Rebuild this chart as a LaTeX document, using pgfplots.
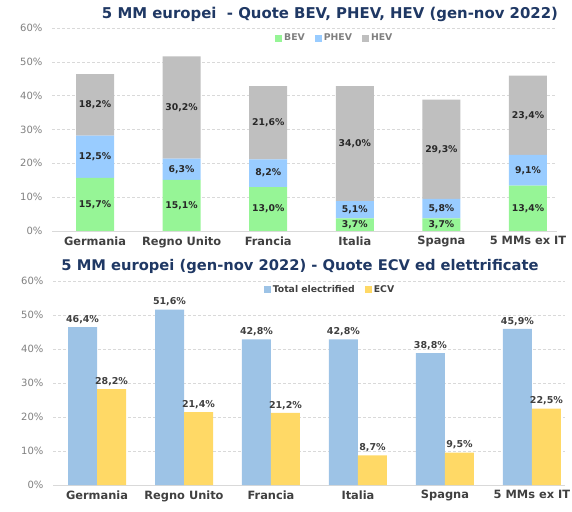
\documentclass[border=0pt]{standalone}
\usepackage{pgfplots}
\pgfplotsset{compat=1.18}
\usepackage{fontspec}
\setmainfont{DejaVu Sans}
\definecolor{bev}{RGB}{150,245,150}
\definecolor{phev}{RGB}{153,204,255}
\definecolor{hev}{RGB}{191,191,191}
\definecolor{tot}{RGB}{157,195,230}
\definecolor{ecv}{RGB}{255,217,102}
\definecolor{titleblue}{RGB}{31,56,100}
\definecolor{tickgray}{RGB}{127,127,127}
\definecolor{gridgray}{RGB}{217,217,217}
\definecolor{lblgray}{RGB}{64,64,64}
\definecolor{lbldark}{RGB}{40,40,40}

\pgfplotsset{
  base/.style={
    scale only axis,
    ymin=0, ymax=60, ytick={0,10,...,60},
    /pgf/number format/assume math mode=true,
    yticklabel={\pgfmathprintnumber{\tick}\%},
    yticklabel style={font=\fontsize{10}{12}\selectfont, text=tickgray, xshift=-6pt},
    xtick={0,...,5},
    xticklabels={Germania, Regno Unito, Francia, Italia, Spagna, 5 MMs ex IT},
    xticklabel style={font=\fontsize{11.4}{13}\selectfont\bfseries, text=lblgray, yshift=-2pt},
    axis x line*=bottom, axis y line*=left,
    y axis line style={draw=none},
    x axis line style={gridgray, line width=0.8pt},
    major tick length=0pt,
    ymajorgrids, grid style={gridgray, densely dashed},
    legend style={draw=none, fill=none, legend columns=-1,
      /tikz/every even column/.append style={column sep=8pt}},
  },
  sqlegend/.style={
    legend image code/.code={\fill[##1,draw=none] (0pt,-3.5pt) rectangle (7pt,3.5pt);},
  },
  lblfmt/.style={
    nodes near coords={\pgfmathprintnumber[fixed,fixed zerofill,precision=1,use comma]{\pgfplotspointmeta}\%},
  }
}

\begin{document}
\begin{tikzpicture}
\path[use as bounding box] (0,0) rectangle (572pt,511pt);

% ---------- top chart ----------
\begin{axis}[base, at={(52pt,280pt)}, anchor=south west, width=505pt, height=203pt,
  xmin=-0.497, xmax=5.335,
  ybar stacked, bar width=38pt, sqlegend,
  legend style={at={(0.560,0.95)}, anchor=center,
    font=\fontsize{9.3}{11}\selectfont\bfseries, text=tickgray},
]
\addplot[fill=bev, draw=none, sqlegend] coordinates {(0,15.7) (1,15.1) (2,13.0) (3,3.7) (4,3.7) (5,13.4)};
\addplot[fill=phev, draw=none, sqlegend] coordinates {(0,12.5) (1,6.3) (2,8.2) (3,5.1) (4,5.8) (5,9.1)};
\addplot[fill=hev, draw=none, sqlegend] coordinates {(0,18.2) (1,30.2) (2,21.6) (3,34.0) (4,29.3) (5,23.4)};
\legend{BEV, PHEV, HEV}
\end{axis}

% labels overlay
\begin{axis}[at={(52pt,280pt)}, anchor=south west, scale only axis,
  width=505pt, height=203pt, xmin=-0.497, xmax=5.335, ymin=0, ymax=60,
  hide axis, /pgf/number format/assume math mode=true, lblfmt,
  point meta=explicit,
  every node near coord/.append style={anchor=center,
    font=\fontsize{9.3}{11}\selectfont\bfseries, text=lbldark},
]
\addplot[draw=none, mark=none] coordinates {
  (0,7.85) [15.7] (1,7.55) [15.1] (2,6.5) [13.0] (3,1.85) [3.7] (4,1.85) [3.7] (5,6.7) [13.4]
  (0,21.95) [12.5] (1,18.25) [6.3] (2,17.1) [8.2] (3,6.25) [5.1] (4,6.6) [5.8] (5,17.95) [9.1]
  (0,37.3) [18.2] (1,36.5) [30.2] (2,32.0) [21.6] (3,25.8) [34.0] (4,24.15) [29.3] (5,34.2) [23.4]
};
\end{axis}

% ---------- bottom chart ----------
\begin{axis}[base, at={(53pt,26pt)}, anchor=south west, width=512pt, height=204pt,
  xmin=-0.506, xmax=5.38,
  ybar=0pt, bar width=29pt, sqlegend,
  lblfmt,
  every node near coord/.append style={
    font=\fontsize{9.5}{11}\selectfont\bfseries, text=lblgray},
  legend style={at={(0.541,0.956)}, anchor=center,
    font=\fontsize{9.3}{11}\selectfont\bfseries, text=lblgray},
]
\addplot[fill=tot, draw=none, sqlegend] coordinates {(0,46.4) (1,51.6) (2,42.8) (3,42.8) (4,38.8) (5,45.9)};
\addplot[fill=ecv, draw=none, sqlegend] coordinates {(0,28.2) (1,21.4) (2,21.2) (3,8.7) (4,9.5) (5,22.5)};
\legend{Total electrified, ECV}
\end{axis}

% titles
\node[font=\bfseries\fontsize{14.9}{17}\selectfont, text=titleblue] at (330pt,497pt)
  {5 MM europei\ \ - Quote BEV, PHEV, HEV (gen-nov 2022)};
\node[font=\bfseries\fontsize{14.7}{17}\selectfont, text=titleblue] at (300pt,244pt)
  {5 MM europei (gen-nov 2022) - Quote ECV ed elettrificate};
\end{tikzpicture}
\end{document}
